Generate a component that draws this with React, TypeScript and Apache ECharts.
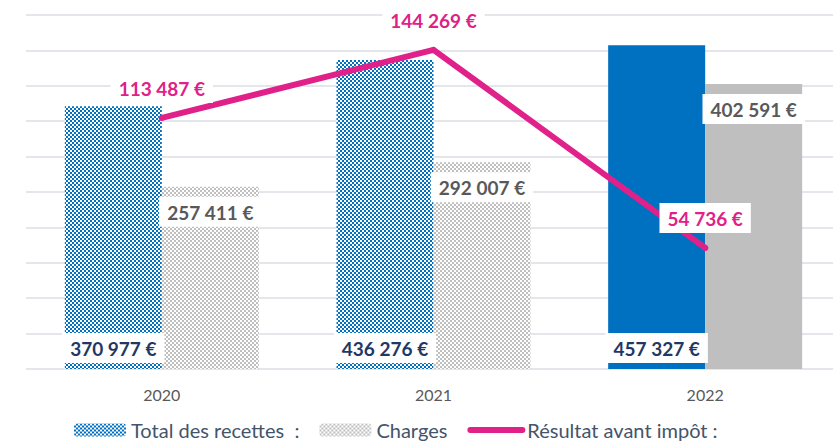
import React, { useEffect, useRef } from "react";
import * as echarts from "echarts";

const categories = ["2020", "2021", "2022"];
const recettes = [370977, 436276, 457327];
const charges = [257411, 292007, 402591];
const resultat = [113487, 144269, 54736];
const patterned = [true, true, false];
const seriesNames = ["Total des recettes  :", "Charges", "Résultat avant impôt :"];

const BLUE = "#0070C0";
const GRAY = "#BFBFBF";
const PINK = "#E0218A";
const FONT = "Lato, 'Open Sans', sans-serif";

function makeChecker(color: string): HTMLCanvasElement {
  const c = document.createElement("canvas");
  c.width = 4;
  c.height = 4;
  const ctx = c.getContext("2d")!;
  ctx.fillStyle = color;
  ctx.fillRect(0, 0, 4, 4);
  ctx.fillStyle = "#ffffff";
  ctx.fillRect(0, 0, 2, 2);
  ctx.fillRect(2, 2, 2, 2);
  return c;
}

const fmt = (v: number) =>
  String(Math.round(v)).replace(/\B(?=(\d{3})+(?!\d))/g, " ") + " €";

export default function App() {
  const ref = useRef<HTMLDivElement>(null);
  useEffect(() => {
    if (!ref.current) return;
    const chart = echarts.init(ref.current, undefined, { renderer: "svg" });
    const bluePat = { image: makeChecker(BLUE), repeat: "repeat" } as any;
    const grayPat = { image: makeChecker(GRAY), repeat: "repeat" } as any;

    const boxLabel = (color: string) => ({
      show: true,
      formatter: (p: any) => fmt(p.value),
      color,
      fontFamily: FONT,
      fontWeight: "bold" as const,
      fontSize: 19,
      lineHeight: 21,
      backgroundColor: "#ffffff",
      padding: [5, 8, 4, 8],
    });

    chart.setOption({
      animation: false,
      textStyle: { fontFamily: FONT },
      grid: { left: 26, width: 815, top: 15, bottom: 78, containLabel: false },
      legend: {
        left: 69,
        bottom: 2,
        itemWidth: 52,
        itemHeight: 13,
        itemGap: 20,
        textStyle: { color: "#44546A", fontSize: 20, fontFamily: FONT },
        data: [
          { name: seriesNames[0] },
          { name: seriesNames[1] },
          {
            name: seriesNames[2],
            itemStyle: { opacity: 0 },
            lineStyle: { width: 6, cap: "round", color: PINK },
          },
        ],
      },
      xAxis: {
        type: "category",
        data: categories,
        axisLine: { show: false },
        axisTick: { show: false },
        axisLabel: { color: "#595959", fontSize: 16, margin: 17, fontFamily: FONT },
      },
      yAxis: [
        {
          type: "value",
          min: 0,
          max: 500000,
          interval: 50000,
          axisLabel: { show: false },
          axisLine: { show: false },
          axisTick: { show: false },
          splitLine: { lineStyle: { color: "#E3E6EA", width: 2 } },
        },
        {
          type: "value",
          min: 0,
          max: 160000,
          show: false,
          splitLine: { show: false },
        },
      ],
      series: [
        {
          name: seriesNames[0],
          type: "bar",
          barWidth: 97,
          barGap: "0%",
          itemStyle: { color: bluePat },
          data: recettes.map((v, i) => ({
            value: v,
            itemStyle: { color: patterned[i] ? bluePat : BLUE },
          })),
          label: { ...boxLabel("#1F3864"), position: "insideBottom", distance: 6 },
          z: 2,
        },
        {
          name: seriesNames[1],
          type: "bar",
          barWidth: 97,
          barGap: "0%",
          itemStyle: { color: grayPat },
          data: charges.map((v, i) => ({
            value: v,
            itemStyle: { color: patterned[i] ? grayPat : GRAY },
          })),
          label: { ...boxLabel("#595959"), position: "insideTop", distance: 10 },
          z: 2,
        },
        {
          name: seriesNames[2],
          type: "line",
          yAxisIndex: 1,
          data: resultat,
          symbol: "circle",
          symbolSize: 6,
          showSymbol: true,
          itemStyle: { color: PINK },
          lineStyle: { color: PINK, width: 6, cap: "round", join: "round" },
          label: { ...boxLabel(PINK), position: "top", distance: 12 },
          z: 5,
        },
      ],
    });
    return () => chart.dispose();
  }, []);
  return (
    <div
      ref={ref}
      style={{ position: "fixed", left: 0, top: 0, width: 845, height: 447, background: "#fff" }}
    />
  );
}
